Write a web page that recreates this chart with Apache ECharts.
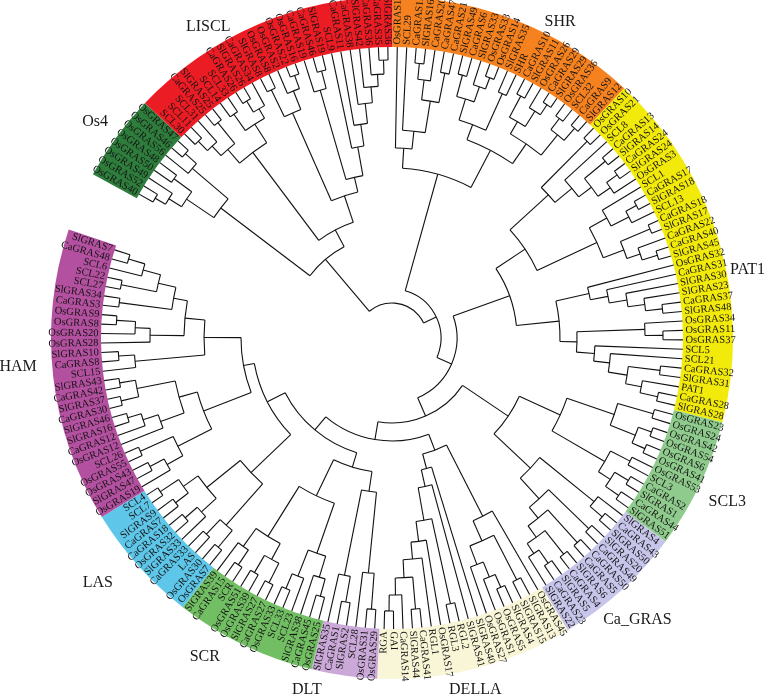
<!DOCTYPE html>
<html>
<head>
<meta charset="utf-8">
<script src="https://cdn.jsdelivr.net/npm/echarts@6/dist/echarts.min.js"></script>
<style>
html,body{margin:0;padding:0;background:#ffffff;}
#chart{width:772px;height:699px;}
</style>
</head>
<body>
<div id="chart"></div>
<script>
// ---------------- DATA ----------------
// Clades in clockwise order (starting after the gap, upper left)
const cladeNames = ['Os4', 'LISCL', 'SHR', 'PAT1', 'SCL3', 'Ca_GRAS', 'DELLA', 'DLT', 'SCR', 'LAS', 'HAM'];

// Subtrees (leaves in clockwise order). Number after ")" = radius of that internal node.
const treeOs4 = "((((OsGRAS40,OsGRAS52)275,OsGRAS49)263,(OsGRAS50,OsGRAS48)270)248,(OsGRAS56,(OsGRAS46,OsGRAS47)277)262)215";
const treeLISCL = "(((((SCL30,SCL11)276,SCL31)263,(CaGRAS25,SlGRAS25)277)250,((SCL14,SCL33)274,((CaGRAS26,SlGRAS26)278,CaGRAS34)265)254)232,(((SlGRAS8,OsGRAS8)276,(OsGRAS2,(OsGRAS22,OsGRAS16)280)266)246,((CaGRAS19,(CaGRAS46,SlGRAS19)276)258,(SCL9,(CaGRAS11,(CaGRAS38,(SlGRAS42,(CaGRAS36,(CaGRAS35,SlGRAS36)278)264)252)236)216)194)165)150)122";
const treeSHR = "((OsGRAS13,(SCL29,(((CaGRAS12,SlGRAS16)276,CaGRAS20)260,(CaGRAS47,CaGRAS21)270)240)208)190,((((SlGRAS49,CaGRAS6)272,(SlGRAS33,(OsGRAS33,OsGRAS14)278)266)250,(SlGRAS35,SHR)268)228,(((CaGRAS10,SlGRAS11)274,(OsGRAS26,(CaGRAS29,SlGRAS29)280)268)250,((OsGRAS36,SCL32)276,(CaGRAS9,SlGRAS12)278)262)236)212)170";
const treePAT1 = "((((OsGRAS10,OsGRAS21)277,(SCL8,((CaGRAS13,SlGRAS14)277,((CaGRAS24,SlGRAS24)278,OsGRAS3)265)250)234)212,((SCL1,((CaGRAS17,SlGRAS18)278,SCL13)266)246,((CaGRAS18,SlGRAS17)280,(CaGRAS22,(CaGRAS40,SlGRAS45)278)262)248)226)160,((OsGRAS32,(CaGRAS31,(SlGRAS30,(SlGRAS23,(CaGRAS37,SlGRAS48)272)255)238)220)202,((OsGRAS34,(OsGRAS11,OsGRAS37)271)253,(SCL5,(SCL21,((CaGRAS32,SlGRAS31)270,(PAT1,(CaGRAS28,SlGRAS28)272)254)238)219)203)185)168)125";
const treeSCL3 = "(((OsGRAS23,OsGRAS24)272,((OsGRAS42,OsGRAS54)276,(OsGRAS6,OsGRAS41)276)262)235,((OsGRAS53,SCL3)268,((CaGRAS2,SlGRAS1)276,(CaGRAS44,SlGRAS51)276)260)246)185";
const treeCaGRAS = "((SlGRAS4,(CaGRAS43,SlGRAS50)276)260,((SlGRAS20,CaGRAS49)274,((CaGRAS50,CaGRAS5)276,((SlGRAS6,CaGRAS4)276,((SlGRAS5,CaGRAS23)274,SlGRAS22)258)246)232)218)190";
const treeDELLA = "((OsGRAS45,((SlGRAS13,SlGRAS15)272,(((SlGRAS4,OsGRAS5)272,OsGRAS1)258,OsGRAS27)242)222)200,(SlGRAS40,(SlGRAS41,((RGL2,RGL3)272,(OsGRAS17,(RGL1,((CaGRAS41,SlGRAS44)272,(CaGRAS14,(GAI,RGA)273)257)240)222)205)185)152)135)120";
const treeDLT = "(((OsGRAS29,OsGRAS31)272,SCL28)236,((SlGRAS2,CaGRAS1)268,SlGRAS35)242)155";
const treeSCR = "((((OsGRAS25,CaGRAS45)268,SlGRAS38)250,(SCL23,(SCL33,OsGRAS33)272)256)228,(((CaGRAS27,SlGRAS27)274,(OsGRAS39,OsGRAS51)272)252,((SCR,CaGRAS15)274,SlGRAS39)256)234)175";
const treeLAS = "(((OsGRAS7,OsGRAS30)272,(LAS,CaGRAS33)270)250,((SlGRAS33,(OsGRAS32,CaGRAS18)274)258,((CaGRAS7,SlGRAS9)272,(SCL7,SCL4)278)256)238)195";
const treeHAM = "((((OsGRAS19,(SlGRAS47,OsGRAS43)274)258,(OsGRAS55,SCL26)276)240,((OsGRAS12,(CaGRAS12,(SlGRAS16,SlGRAS46)276)262)246,((CaGRAS30,SlGRAS37)278,(CaGRAS42,SlGRAS43)276)260)221)202,((SCL15,(CaGRAS8,SlGRAS10)274)258,((OsGRAS28,(OsGRAS20,(OsGRAS8,OsGRAS9)276)257)242,((CaGRAS3,SlGRAS34)275,((SCL27,SCL22)276,(SCL6,(CaGRAS48,SlGRAS7)275)258)240)222)208)188)151";
const cladeTrees = [treeOs4, treeLISCL, treeSHR, treePAT1, treeSCL3, treeCaGRAS, treeDELLA, treeDLT, treeSCR, treeLAS, treeHAM];

// Backbone joining the clades
const backboneTree = "((Os4,LISCL)103,(SHR,(PAT1,((SCL3,Ca_GRAS)140,(DELLA,((DLT,SCR)135,(LAS,HAM)140)120)103)85)65)49)35";

// ---------------- STYLE / LAYOUT ----------------
const cladeColors = ['#2e7d3c', '#ec1c24', '#f5821f', '#f2ea0a', '#8fcb8c', '#c7c5ea', '#f8f6d6', '#caa8d8', '#72bf63', '#5ec6e8', '#b3509f'];
const LAYOUT = {
  center: [392, 338],
  outerR: 341,
  tipR: 291,
  labelR: 293.5,
  startTheta: 298.7,     // clockwise from 12 o'clock, where the first leaf slot begins
  gapSlots: 5.45,
  leafFont: '10.5px "Liberation Serif", "Times New Roman", serif',
  cladeFont: '16px "Liberation Serif", "Times New Roman", serif',
  lineColor: '#111111',
  lineWidth: 1.1,
  // clade title anchors: [theta (deg clockwise from top), radius]
  cladeLabelPos: [[306, 367], [329.4, 361], [28, 358], [79.2, 362], [116, 373], [139, 374], [166.7, 362], [193.6, 362], [210.4, 370], [230.2, 383], [265.6, 375]]
};

// ---------------- BUILD ----------------
function parseNewick(s) {
  let i = 0;
  function node() {
    if (s[i] === '(') {
      i++;
      const children = [node()];
      while (s[i] === ',') { i++; children.push(node()); }
      if (s[i] !== ')') throw new Error('Newick parse error at ' + i);
      i++;
      let num = '';
      while (i < s.length && /[0-9.]/.test(s[i])) num += s[i++];
      return { children: children, r: parseFloat(num) };
    }
    let name = '';
    while (i < s.length && !/[,()]/.test(s[i])) name += s[i++];
    return { name: name };
  }
  return node();
}

function attach(bn) {
  if (bn.children) { bn.children = bn.children.map(attach); return bn; }
  const idx = cladeNames.indexOf(bn.name);
  const t = parseNewick(cladeTrees[idx]);
  t.clade = idx;
  return t;
}
const root = attach(parseNewick(backboneTree));

let counter = 0;
const leaves = [];
function layout(n, clade) {
  if (n.clade !== undefined) clade = n.clade;
  if (n.children) {
    n.children.forEach(c => layout(c, clade));
    n.v = (n.children[0].v + n.children[n.children.length - 1].v) / 2;
  } else {
    n.v = counter + 0.5;
    n.r = LAYOUT.tipR;
    leaves.push({ name: n.name, v: n.v, clade: clade });
    counter++;
  }
}
layout(root, -1);

const segs = [];
function collect(n) {
  if (!n.children) return;
  const first = n.children[0], last = n.children[n.children.length - 1];
  segs.push({ type: 'arc', r: n.r, v1: first.v, v2: last.v });
  n.children.forEach(c => {
    segs.push({ type: 'radial', v: c.v, r1: n.r, r2: c.r });
    collect(c);
  });
}
collect(root);

const cladeRanges = cladeNames.map((_, ci) => {
  const ls = leaves.filter(l => l.clade === ci);
  return [ls[0].v - 0.5, ls[ls.length - 1].v + 0.5];
});

const totalSlots = counter + LAYOUT.gapSlots;
const degPerSlot = 360 / totalSlots;
function thetaToValue(theta) {
  const d = ((theta - LAYOUT.startTheta) % 360 + 360) % 360;
  return d / degPerSlot;
}

// ---------------- CHART ----------------
const chart = echarts.init(document.getElementById('chart'), null, { renderer: 'canvas' });

function ang(p, cx, cy) { return Math.atan2(p[1] - cy, p[0] - cx); }

const option = {
  backgroundColor: '#ffffff',
  animation: false,
  polar: { center: LAYOUT.center, radius: LAYOUT.outerR },
  angleAxis: {
    type: 'value', min: 0, max: totalSlots,
    startAngle: ((90 - LAYOUT.startTheta) % 360 + 360) % 360,
    clockwise: true, show: false
  },
  radiusAxis: { type: 'value', min: 0, max: LAYOUT.outerR, show: false },
  series: [
    {
      name: 'bands', type: 'custom', coordinateSystem: 'polar', silent: true, clip: false,
      data: cladeRanges.map(r => [LAYOUT.outerR, (r[0] + r[1]) / 2]),
      renderItem: function (params, api) {
        const cs = params.coordSys, cx = cs.cx, cy = cs.cy;
        const rg = cladeRanges[params.dataIndex];
        const pA = api.coord([LAYOUT.tipR, rg[0]]);
        const pB = api.coord([LAYOUT.tipR, rg[1]]);
        const pO = api.coord([LAYOUT.outerR, rg[0]]);
        const r0 = Math.hypot(pA[0] - cx, pA[1] - cy);
        const r = Math.hypot(pO[0] - cx, pO[1] - cy);
        let a1 = ang(pA, cx, cy), a2 = ang(pB, cx, cy);
        while (a2 <= a1) a2 += Math.PI * 2;
        return {
          type: 'sector',
          shape: { cx: cx, cy: cy, r0: r0, r: r, startAngle: a1, endAngle: a2, clockwise: true },
          style: { fill: cladeColors[params.dataIndex] }
        };
      }
    },
    {
      name: 'branches', type: 'custom', coordinateSystem: 'polar', silent: true, clip: false,
      data: segs.map(s => s.type === 'arc' ? [s.r, s.v1] : [s.r1, s.v]),
      renderItem: function (params, api) {
        const cs = params.coordSys, cx = cs.cx, cy = cs.cy;
        const s = segs[params.dataIndex];
        const st = { stroke: LAYOUT.lineColor, lineWidth: LAYOUT.lineWidth, fill: null };
        if (s.type === 'radial') {
          const p1 = api.coord([s.r1, s.v]);
          const p2 = api.coord([s.r2, s.v]);
          return { type: 'line', shape: { x1: p1[0], y1: p1[1], x2: p2[0], y2: p2[1] }, style: st };
        }
        const p1 = api.coord([s.r, s.v1]);
        const p2 = api.coord([s.r, s.v2]);
        const rad = Math.hypot(p1[0] - cx, p1[1] - cy);
        let a1 = ang(p1, cx, cy), a2 = ang(p2, cx, cy);
        while (a2 < a1) a2 += Math.PI * 2;
        return { type: 'arc', shape: { cx: cx, cy: cy, r: rad, startAngle: a1, endAngle: a2, clockwise: true }, style: st };
      }
    },
    {
      name: 'leafLabels', type: 'custom', coordinateSystem: 'polar', silent: true, clip: false,
      data: leaves.map(l => [LAYOUT.labelR, l.v]),
      renderItem: function (params, api) {
        const cs = params.coordSys, cx = cs.cx, cy = cs.cy;
        const l = leaves[params.dataIndex];
        const p = api.coord([LAYOUT.labelR, l.v]);
        const a = ang(p, cx, cy);
        const right = p[0] >= cx - 0.01;
        return {
          type: 'text', x: p[0], y: p[1],
          rotation: right ? -a : -a - Math.PI,
          style: {
            text: l.name, fill: '#141414', font: LAYOUT.leafFont,
            align: right ? 'left' : 'right', verticalAlign: 'middle'
          }
        };
      }
    },
    {
      name: 'cladeLabels', type: 'custom', coordinateSystem: 'polar', silent: true, clip: false,
      data: LAYOUT.cladeLabelPos.map(p => [p[1], thetaToValue(p[0])]),
      renderItem: function (params, api) {
        const pos = LAYOUT.cladeLabelPos[params.dataIndex];
        const p = api.coord([pos[1], thetaToValue(pos[0])]);
        return {
          type: 'text', x: p[0], y: p[1],
          style: {
            text: cladeNames[params.dataIndex], fill: '#1a1a1a', font: LAYOUT.cladeFont,
            align: 'center', verticalAlign: 'middle'
          }
        };
      }
    }
  ]
};
chart.setOption(option);
</script>
</body>
</html>
